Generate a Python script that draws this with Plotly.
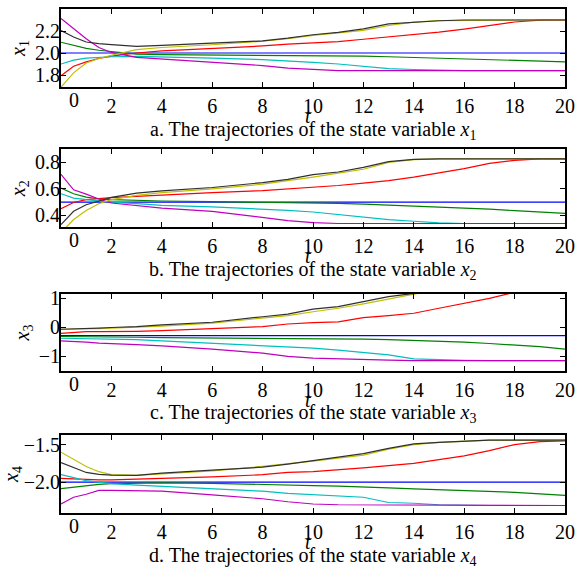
import plotly.graph_objects as go

T = [0, 0.5, 1, 1.5, 2, 3, 4, 6, 8, 9, 10, 11, 12, 13, 14, 15, 16, 17, 18, 19, 20]

# x1
x1_blue = [2.0] * 21
x1_green = [2.098, 2.067, 2.042, 2.025, 2.012, 1.99, 1.985, 1.983, 1.982, 1.98, 1.978, 1.975, 1.972, 1.966, 1.96, 1.953, 1.947, 1.938, 1.93, 1.925, 1.92]
x1_red = [1.794, 1.88, 1.92, 1.95, 1.972, 2.0, 2.02, 2.04, 2.064, 2.08, 2.093, 2.104, 2.125, 2.145, 2.166, 2.19, 2.218, 2.25, 2.282, 2.298, 2.3]
x1_cyan = [1.90, 1.935, 1.954, 1.962, 1.966, 1.97, 1.966, 1.954, 1.94, 1.93, 1.914, 1.9, 1.88, 1.858, 1.85, 1.843, 1.84, 1.84, 1.84, 1.84, 1.84]
x1_magenta = [2.313, 2.22, 2.13, 2.05, 2.005, 1.96, 1.945, 1.917, 1.886, 1.862, 1.85, 1.84, 1.84, 1.84, 1.84, 1.84, 1.84, 1.84, 1.84, 1.84, 1.84]
x1_yellow = [1.69, 1.82, 1.91, 1.95, 1.98, 2.03, 2.05, 2.075, 2.107, 2.13, 2.16, 2.18, 2.205, 2.25, 2.28, 2.295, 2.298, 2.3, 2.3, 2.3, 2.3]
x1_black = [2.205, 2.145, 2.10, 2.085, 2.077, 2.06, 2.07, 2.09, 2.11, 2.135, 2.166, 2.187, 2.22, 2.265, 2.28, 2.293, 2.3, 2.3, 2.3, 2.3, 2.3]

# x2
x2_blue = [0.5] * 21
x2_green = [0.605, 0.563, 0.538, 0.525, 0.518, 0.512, 0.508, 0.503, 0.5, 0.495, 0.492, 0.49, 0.485, 0.478, 0.473, 0.466, 0.458, 0.447, 0.435, 0.425, 0.415]
x2_red = [0.45, 0.497, 0.518, 0.527, 0.533, 0.543, 0.553, 0.572, 0.587, 0.598, 0.612, 0.625, 0.643, 0.662, 0.688, 0.718, 0.752, 0.792, 0.815, 0.827, 0.827]
x2_cyan = [0.563, 0.53, 0.518, 0.508, 0.5, 0.488, 0.475, 0.463, 0.448, 0.437, 0.425, 0.405, 0.385, 0.368, 0.355, 0.343, 0.338, 0.338, 0.338, 0.338, 0.338]
x2_magenta = [0.71, 0.593, 0.56, 0.523, 0.493, 0.475, 0.455, 0.43, 0.38, 0.36, 0.345, 0.338, 0.338, 0.338, 0.338, 0.338, 0.338, 0.338, 0.338, 0.338, 0.338]
x2_yellow = [0.27, 0.368, 0.437, 0.487, 0.518, 0.55, 0.572, 0.6, 0.635, 0.66, 0.688, 0.718, 0.748, 0.8, 0.82, 0.827, 0.827, 0.827, 0.827, 0.827, 0.827]
x2_black = [0.33, 0.43, 0.48, 0.51, 0.535, 0.567, 0.585, 0.61, 0.647, 0.672, 0.707, 0.727, 0.762, 0.805, 0.822, 0.827, 0.827, 0.827, 0.827, 0.827, 0.827]

# x3
x3_blue = [-0.29] * 21
x3_green = [-0.32, -0.32, -0.325, -0.33, -0.33, -0.345, -0.36, -0.37, -0.375, -0.37, -0.38, -0.395, -0.41, -0.43, -0.45, -0.48, -0.51, -0.56, -0.61, -0.67, -0.75]
x3_red = [-0.21, -0.17, -0.15, -0.15, -0.15, -0.14, -0.12, -0.04, 0.02, 0.11, 0.16, 0.18, 0.33, 0.4, 0.48, 0.65, 0.82, 0.99, 1.2, 1.3, 1.3]
x3_cyan = [-0.38, -0.385, -0.39, -0.395, -0.40, -0.43, -0.47, -0.55, -0.63, -0.67, -0.72, -0.79, -0.87, -0.95, -1.09, -1.12, -1.14, -1.15, -1.15, -1.15, -1.15]
x3_magenta = [-0.47, -0.48, -0.51, -0.55, -0.56, -0.6, -0.64, -0.75, -0.89, -1.0, -1.06, -1.09, -1.11, -1.13, -1.15, -1.15, -1.15, -1.15, -1.15, -1.15, -1.15]
x3_yellow = [-0.07, -0.07, -0.06, -0.05, -0.03, 0.0, 0.04, 0.14, 0.33, 0.4, 0.53, 0.65, 0.8, 0.97, 1.16, 1.3, 1.3, 1.3, 1.3, 1.3, 1.3]
x3_black = [-0.07, -0.065, -0.06, -0.03, -0.01, 0.02, 0.08, 0.17, 0.36, 0.45, 0.62, 0.71, 0.88, 1.05, 1.16, 1.3, 1.3, 1.3, 1.3, 1.3, 1.3]

# x4
x4_blue = [-2.0] * 21
x4_green = [-2.085, -2.065, -2.045, -2.03, -2.02, -2.012, -2.01, -2.015, -2.025, -2.03, -2.045, -2.052, -2.06, -2.075, -2.09, -2.1, -2.11, -2.122, -2.135, -2.155, -2.175]
x4_red = [-1.95, -1.96, -1.97, -1.97, -1.97, -1.96, -1.95, -1.93, -1.90, -1.87, -1.86, -1.84, -1.81, -1.78, -1.75, -1.70, -1.65, -1.58, -1.50, -1.46, -1.45]
x4_cyan = [-1.90, -1.94, -1.98, -2.0, -2.02, -2.04, -2.055, -2.085, -2.12, -2.15, -2.17, -2.185, -2.2, -2.27, -2.28, -2.30, -2.31, -2.31, -2.31, -2.31, -2.31]
x4_magenta = [-2.29, -2.20, -2.16, -2.11, -2.11, -2.11, -2.12, -2.17, -2.22, -2.26, -2.29, -2.30, -2.30, -2.305, -2.31, -2.31, -2.31, -2.31, -2.31, -2.31, -2.31]
x4_yellow = [-1.60, -1.69, -1.79, -1.86, -1.90, -1.91, -1.89, -1.85, -1.79, -1.76, -1.72, -1.68, -1.64, -1.56, -1.50, -1.47, -1.45, -1.44, -1.44, -1.44, -1.44]
x4_black = [-1.74, -1.81, -1.87, -1.895, -1.905, -1.91, -1.88, -1.84, -1.80, -1.76, -1.71, -1.67, -1.62, -1.55, -1.49, -1.47, -1.45, -1.44, -1.44, -1.44, -1.44]

x_ticks = [2, 4, 6, 8, 10, 12, 14, 16, 18, 20]
captions = ["a. The trajectories of the state variable <i>x</i><sub>1</sub>",
            "b. The trajectories of the state variable <i>x</i><sub>2</sub>",
            "c. The trajectories of the state variable <i>x</i><sub>3</sub>",
            "d. The trajectories of the state variable <i>x</i><sub>4</sub>"]
ytitles = ["<i>x</i><sub>1</sub>", "<i>x</i><sub>2</sub>", "<i>x</i><sub>3</sub>", "<i>x</i><sub>4</sub>"]
yticks = [[1.8, 2.0, 2.2], [0.4, 0.6, 0.8], [-1, 0, 1], [-2.0, -1.5]]
yfmt = [".1f", ".1f", "d", ".1f"]
yranges = [[1.69, 2.40], [0.31, 0.90], [-1.5, 1.14], [-2.41, -1.37]]
domains = [[0.845, 1.0], [0.567, 0.722], [0.282, 0.4345], [0.0, 0.155]]

colors = {"blue": "#0000ff", "green": "#008000", "red": "#ff0000", "cyan": "#00bfbf",
          "magenta": "#bf00bf", "yellow": "#bfbf00", "black": "#303030"}

panels = [
    {"blue": x1_blue, "green": x1_green, "red": x1_red, "cyan": x1_cyan, "magenta": x1_magenta, "yellow": x1_yellow, "black": x1_black},
    {"blue": x2_blue, "green": x2_green, "red": x2_red, "cyan": x2_cyan, "magenta": x2_magenta, "yellow": x2_yellow, "black": x2_black},
    {"blue": x3_blue, "green": x3_green, "red": x3_red, "cyan": x3_cyan, "magenta": x3_magenta, "yellow": x3_yellow, "black": x3_black},
    {"blue": x4_blue, "green": x4_green, "red": x4_red, "cyan": x4_cyan, "magenta": x4_magenta, "yellow": x4_yellow, "black": x4_black},
]

FONT = "Liberation Serif"
fig = go.Figure()
annotations = []
for i, pdata in enumerate(panels):
    sfx = "" if i == 0 else str(i + 1)
    for name in ["blue", "green", "red", "cyan", "magenta", "yellow", "black"]:
        fig.add_trace(go.Scatter(x=T, y=pdata[name], mode="lines",
                                 line=dict(color=colors[name], width=1.2),
                                 xaxis="x" + sfx, yaxis="y" + sfx, showlegend=False))
    axcommon = dict(showline=True, linecolor="black", linewidth=2, mirror="allticks",
                    ticks="inside", ticklen=5, tickwidth=1, tickcolor="black",
                    showgrid=False, zeroline=False, automargin=False,
                    tickfont=dict(family=FONT, size=20, color="black"))
    fig.layout["xaxis" + sfx] = dict(axcommon, range=[0, 20], tickvals=x_ticks,
                                     anchor="y" + sfx, domain=[0, 1])
    fig.layout["yaxis" + sfx] = dict(axcommon, range=yranges[i], tickvals=yticks[i],
                                     tickformat=yfmt[i], anchor="x" + sfx, domain=domains[i],
                                     ticklabelstandoff=-5,
                                     title=dict(text=ytitles[i], standoff=4,
                                                font=dict(family=FONT, size=20, color="black")))
    yd = "y" + sfx + " domain"
    annotations.append(dict(text="0", x=0, xref="x" + sfx, y=0, yref=yd, xshift=13, yshift=-13,
                            showarrow=False, xanchor="center", yanchor="middle",
                            font=dict(family=FONT, size=20, color="black")))
    annotations.append(dict(text="<i>t</i>", x=0.49, xref="paper", y=0, yref=yd, yshift=-29,
                            showarrow=False, xanchor="center", yanchor="middle",
                            font=dict(family=FONT, size=20, color="black")))
    annotations.append(dict(text=captions[i], x=0.5, xref="paper", y=0, yref=yd, yshift=-43,
                            showarrow=False, xanchor="center", yanchor="middle",
                            font=dict(family=FONT, size=20, color="black")))

fig.update_layout(width=581, height=574, margin=dict(l=61, r=16, t=9, b=61),
                  plot_bgcolor="white", paper_bgcolor="white", annotations=annotations,
                  font=dict(family=FONT, size=20, color="black"))
fig.write_html("out.html", config={"displayModeBar": False},
               post_script="document.body.style.margin='0';document.body.style.overflow='hidden';")
